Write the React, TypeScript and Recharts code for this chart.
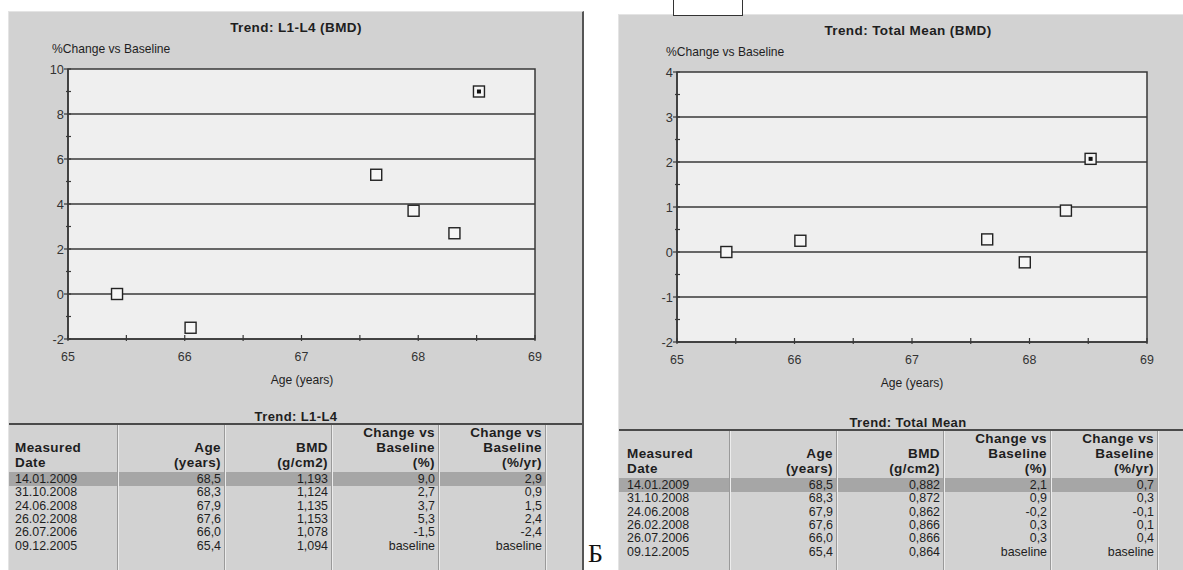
import { ScatterChart, Scatter, XAxis, YAxis, ReferenceArea, ReferenceLine } from "recharts";

// measurement dates, newest first (same order as the printed tables)
const dates = ["14.01.2009", "31.10.2008", "24.06.2008", "26.02.2008", "26.07.2006", "09.12.2005"];
const ageLabels = ["68,5", "68,3", "67,9", "67,6", "66,0", "65,4"];
// age of each scan as plotted on the x axis
const plotAges = [68.52, 68.31, 67.96, 67.64, 66.05, 65.42];

// L1-L4
const l14Plot = [9.0, 2.7, 3.7, 5.3, -1.5, 0];
const l14Bmd = ["1,193", "1,124", "1,135", "1,153", "1,078", "1,094"];
const l14Pct = ["9,0", "2,7", "3,7", "5,3", "-1,5", "baseline"];
const l14PctYr = ["2,9", "0,9", "1,5", "2,4", "-2,4", "baseline"];

// Total mean
const meanPlot = [2.07, 0.92, -0.23, 0.28, 0.25, 0];
const meanBmd = ["0,882", "0,872", "0,862", "0,866", "0,866", "0,864"];
const meanPct = ["2,1", "0,9", "-0,2", "0,3", "0,3", "baseline"];
const meanPctYr = ["0,7", "0,3", "-0,1", "0,1", "0,4", "baseline"];

const xTicks = [65, 65.5, 66, 66.5, 67, 67.5, 68, 68.5, 69];
const xLabels = [65, 66, 67, 68, 69];
const l14YTicks = [-2, -1, 0, 1, 2, 3, 4, 5, 6, 7, 8, 9, 10];
const l14YLabels = [-2, 0, 2, 4, 6, 8, 10];
const meanYTicks = [-2, -1.5, -1, -0.5, 0, 0.5, 1, 1.5, 2, 2.5, 3, 3.5, 4];
const meanYLabels = [-2, -1, 0, 1, 2, 3, 4];

const headers = [
  ["", "Measured", "Date"],
  ["", "Age", "(years)"],
  ["", "BMD", "(g/cm2)"],
  ["Change vs", "Baseline", "(%)"],
  ["Change vs", "Baseline", "(%/yr)"],
];

const FONT = '"Liberation Sans", Arial, sans-serif';
const INK = "#1e1e1e";
const PANEL_BG = "#d2d2d2";
const PLOT_BG = "#efefef";
const GRID = "#383838";

const CH = 400;
const YW = 40;
const XH = 30;

function Txt({ x, y, children, anchor = "middle", bold = false, size = 12, spacing = 0, sx = 1 }: any) {
  const tx = anchor === "middle" ? "-50%" : anchor === "end" ? "-100%" : "0";
  const origin = anchor === "start" ? "left center" : anchor === "end" ? "right center" : "center";
  return (
    <div
      style={{
        position: "absolute",
        left: x,
        top: y,
        transform: `translate(${tx}, -50%) scaleX(${sx})`,
        transformOrigin: origin,
        whiteSpace: "nowrap",
        lineHeight: 1,
        fontFamily: FONT,
        fontSize: size,
        fontWeight: bold ? 700 : 400,
        letterSpacing: spacing,
        color: INK,
      }}
    >
      {children}
    </div>
  );
}

function SquareMarker(props: any) {
  const { cx, cy, payload } = props;
  return (
    <g>
      <rect x={cx - 5.5} y={cy - 5.5} width={11} height={11} fill="#f6f6f6" stroke="#222" strokeWidth={1.4} />
      {payload.latest && <rect x={cx - 2} y={cy - 2} width={4} height={4} fill="#111" />}
    </g>
  );
}

function makeXTick() {
  return (props: any) => {
    const { x, y, payload } = props;
    const v = payload.value;
    return (
      <g>
        <line x1={x} x2={x} y1={y - 4} y2={y + 2} stroke={GRID} strokeWidth={1.2} />
        {xLabels.includes(v) && (
          <text
            transform={`translate(${x},${y + 17}) scale(0.92,1)`}
            textAnchor="middle"
            dominantBaseline="central"
            fontFamily={FONT}
            fontSize={13.5}
            fill="#333"
          >
            {v}
          </text>
        )}
      </g>
    );
  };
}

function makeYTick(labels: number[]) {
  return (props: any) => {
    const { x, y, payload } = props;
    const v = payload.value;
    const major = labels.includes(v);
    return (
      <g>
        <line x1={major ? x - 4 : x - 2} x2={x + 3} y1={y} y2={y} stroke={GRID} strokeWidth={1.2} />
        {major && (
          <text
            transform={`translate(${x - 4},${y}) scale(0.95,1)`}
            textAnchor="end"
            dominantBaseline="central"
            fontFamily={FONT}
            fontSize={13.5}
            fill="#333"
          >
            {v}
          </text>
        )}
      </g>
    );
  };
}

function Panel(p: any) {
  const data = plotAges.map((age, i) => ({ age, change: p.values[i], latest: i === 0 }));
  const [y0, y1] = p.yDomain;
  const lineY = p.tableTop + 7;
  const rowY = (i: number) => p.tableTop + 63 + i * 13.3;
  const colLeft = p.tableX;
  const cols = [p.pct, p.pctYr];
  return (
    <div
      style={{
        position: "absolute",
        left: p.left,
        top: p.top,
        width: p.width,
        height: p.height,
        background: PANEL_BG,
        borderRight: p.rightBorder ? "2px solid #555" : undefined,
        borderLeft: "1px solid #e4e4e4",
        borderTop: "1px solid #e4e4e4",
        boxSizing: "border-box",
        overflow: "hidden",
      }}
    >
      <Txt x={p.titleX} y={16} bold size={13.5} spacing={0.4}>{p.title}</Txt>
      <Txt x={p.yTitleX} y={36} anchor="start" size={13} sx={0.93}>%Change vs Baseline</Txt>

      <div style={{ position: "absolute", left: 0, top: 0 }}>
        <ScatterChart
          width={p.width}
          height={CH}
          margin={{ top: p.plotTop, right: p.width - p.plotRight, bottom: CH - p.plotBottom - XH, left: p.plotLeft - YW }}
        >
          <XAxis
            dataKey="age"
            type="number"
            domain={[65, 69]}
            ticks={xTicks}
            interval={0}
            height={XH}
            tickSize={0}
            tickMargin={0}
            tickLine={false}
            axisLine={{ stroke: GRID, strokeWidth: 1.5 }}
            tick={makeXTick()}
            allowDataOverflow
          />
          <YAxis
            dataKey="change"
            type="number"
            domain={p.yDomain}
            ticks={p.yTicks}
            interval={0}
            width={YW}
            tickSize={0}
            tickMargin={0}
            tickLine={false}
            axisLine={{ stroke: GRID, strokeWidth: 1.5 }}
            tick={makeYTick(p.yLabels)}
            allowDataOverflow
          />
          <ReferenceArea x1={65} x2={69} y1={y0} y2={y1} fill={PLOT_BG} fillOpacity={1} stroke={GRID} strokeWidth={1.5} />
          {p.yLabels
            .filter((v: number) => v !== y0 && v !== y1)
            .map((v: number) => (
              <ReferenceLine key={v} y={v} stroke={GRID} strokeWidth={1.5} />
            ))}
          <Scatter data={data} dataKey="change" shape={SquareMarker} isAnimationActive={false} />
        </ScatterChart>
      </div>

      <Txt x={(p.plotLeft + p.plotRight) / 2} y={p.plotBottom + 40} size={13} sx={0.93}>Age (years)</Txt>

      {/* table */}
      <Txt x={p.titleX} y={p.tableTop} bold size={13} spacing={0.4}>{p.tableTitle}</Txt>
      <div style={{ position: "absolute", left: 0, top: lineY, width: p.width, height: 2, background: "#4a4a4a" }} />
      <div
        style={{
          position: "absolute",
          left: 0,
          top: rowY(0) - 7,
          width: colLeft + p.seps[4],
          height: 14,
          background: "#a6a6a6",
        }}
      />
      {p.seps.map((s: number) => (
        <div
          key={s}
          style={{
            position: "absolute",
            left: colLeft + s,
            top: lineY + 2,
            width: 1,
            height: p.height,
            background: "#9a9a9a",
            borderRight: "1px solid #ececec",
          }}
        />
      ))}
      {headers.map((h, c) =>
        h.map((t, r) =>
          t ? (
            <Txt
              key={c + "-" + r}
              x={c === 0 ? colLeft + 6 : colLeft + p.seps[c] - 3}
              y={p.tableTop + 17 + r * 15}
              anchor={c === 0 ? "start" : "end"}
              bold
              size={13.5}
              spacing={0.4}
            >
              {t}
            </Txt>
          ) : null
        )
      )}
      {dates.map((d, i) => (
        <div key={d}>
          <Txt x={colLeft + 6} y={rowY(i)} anchor="start" size={13.5} sx={0.92}>{d}</Txt>
          <Txt x={colLeft + p.seps[1] - 3} y={rowY(i)} anchor="end" size={13.5} sx={0.92}>{ageLabels[i]}</Txt>
          <Txt x={colLeft + p.seps[2] - 3} y={rowY(i)} anchor="end" size={13.5} sx={0.92}>{p.bmd[i]}</Txt>
          {cols.map((col, k) => (
            <Txt key={k} x={colLeft + p.seps[3 + k] - 3} y={rowY(i)} anchor="end" size={13.5} sx={0.92}>{col[i]}</Txt>
          ))}
        </div>
      ))}
    </div>
  );
}

export default function App() {
  return (
    <div style={{ position: "relative", width: 1183, height: 570, background: "#fff", overflow: "hidden" }}>
      <style>{"body{margin:0}"}</style>
      <Panel
        left={8}
        top={11}
        width={576}
        height={570}
        rightBorder
        title="Trend: L1-L4 (BMD)"
        tableTitle="Trend: L1-L4"
        titleX={287}
        yTitleX={43}
        plotLeft={59}
        plotRight={526}
        plotTop={57}
        plotBottom={327}
        yDomain={[-2, 10]}
        yTicks={l14YTicks}
        yLabels={l14YLabels}
        values={l14Plot}
        bmd={l14Bmd}
        pct={l14Pct}
        pctYr={l14PctYr}
        tableTop={404}
        tableX={0}
        seps={[108, 215, 322, 429, 536]}
      />
      <Panel
        left={618}
        top={14}
        width={565}
        height={570}
        title="Trend: Total Mean (BMD)"
        tableTitle="Trend: Total Mean"
        titleX={289}
        yTitleX={47}
        plotLeft={58}
        plotRight={528}
        plotTop={57}
        plotBottom={327}
        yDomain={[-2, 4]}
        yTicks={meanYTicks}
        yLabels={meanYLabels}
        values={meanPlot}
        bmd={meanBmd}
        pct={meanPct}
        pctYr={meanPctYr}
        tableTop={407}
        tableX={2}
        seps={[108, 215, 322, 429, 536]}
      />
      <div style={{ position: "absolute", left: 673, top: -2, width: 70, height: 18, background: "#fff", border: "1px solid #333", boxSizing: "border-box" }} />
      <div style={{ position: "absolute", left: 588, top: 541, fontFamily: '"Liberation Serif", serif', fontSize: 26, color: "#111", lineHeight: 1 }}>Б</div>
    </div>
  );
}
